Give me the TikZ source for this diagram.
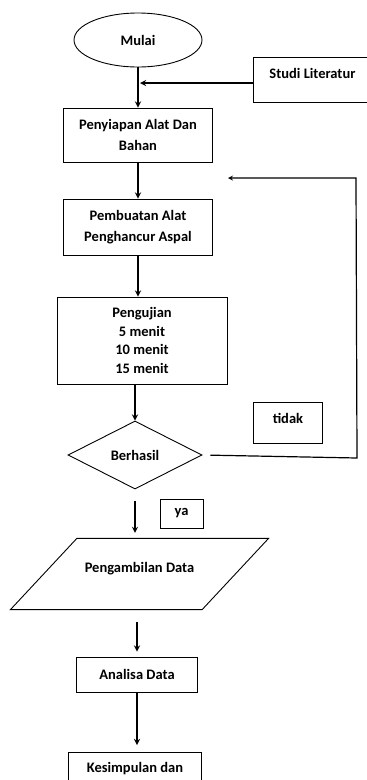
\documentclass[tikz,border=0pt]{standalone}
\usepackage{fontspec}
\setmainfont{Carlito}
\usetikzlibrary{shapes.geometric}

\tikzset{
  flow/.style={draw=black,line width=1.7pt,-stealth},
  box/.style={draw=black,line width=0.9pt,rectangle,inner sep=0pt,align=center},
  topbox/.style={box,anchor=north west},
  twoline/.style={font=\bfseries\fontsize{14.5}{21}\selectfont}
}
\tikzstyle{every node}=[color=black,font=\bfseries\fontsize{14.5}{18.5}\selectfont]

\begin{document}
\begin{tikzpicture}[x=1pt,y=-1pt]
    \path[use as bounding box,clip] (0,0) rectangle (367,780);
    \node (mulai) [draw,ellipse,line width=0.9pt,minimum width=128pt,minimum height=54pt] at (138,40) {Mulai};
    \node (studi) [topbox,minimum width=118pt,text height=21pt,text depth=24pt] at (253,57) {Studi Literatur};
    \node (siap) [box,twoline,minimum width=149pt,minimum height=54pt] at (138,135) {Penyiapan Alat Dan\\Bahan};
    \node (buat) [box,twoline,minimum width=149pt,minimum height=56pt] at (138,227) {Pembuatan Alat\\Penghancur Aspal};
    \node (uji) [box,minimum width=170pt,minimum height=87pt] at (142,340.5) {Pengujian\\5 menit\\10 menit\\15 menit};
    \node (hasil) [draw,diamond,line width=0.9pt,aspect=1.97,minimum width=134pt,minimum height=68pt,inner sep=0pt] at (135,455) {Berhasil};
    \node (tidak) [topbox,minimum width=69pt,text height=21pt,text depth=20pt] at (253,402) {tidak};
    \node (ya) [box,minimum width=43pt,minimum height=29pt] at (181.5,513.5) {ya};
    \node (ambil) [draw,trapezium,trapezium left angle=47,trapezium right angle=133,line width=0.9pt,minimum width=259pt,text height=10pt,text depth=13pt,inner ysep=21.5pt] at (139.5,574) {Pengambilan Data};
    \node (analisa) [box,minimum width=121pt,minimum height=35pt] at (137,674.5) {Analisa Data};
    \node (simpul) [topbox,minimum width=133pt,text height=20pt,text depth=40pt] at (68,752) {Kesimpulan dan};

    \coordinate (sambung) at (140,83);
    \coordinate (kanan) at (357,458);
    \coordinate (atas) at (356,178);
    \coordinate (kembali) at (228,178);

    \draw [flow] (mulai) -- (siap);
    \draw [flow] (studi.west |- sambung) -- (sambung);
    \draw [flow] (siap) -- (buat);
    \draw [flow] (buat.south) -- (buat.south |- uji.north);
    \draw [flow] (hasil.north |- uji.south) -- (hasil.north);
    \draw [flow, line width=1.2pt, shorten <=8pt] (hasil.east) -- (kanan) -- (atas) -- (kembali);
    \draw [flow, shorten <=12pt, shorten >=5pt] (hasil.south) -- (hasil.south |- ambil.north);
    \draw [flow, shorten <=12pt, shorten >=5pt] (ambil.south -| analisa.north) -- (analisa.north);
    \draw [flow, shorten >=7pt] (analisa) -- (simpul.north -| analisa.south);
\end{tikzpicture}
\end{document}
